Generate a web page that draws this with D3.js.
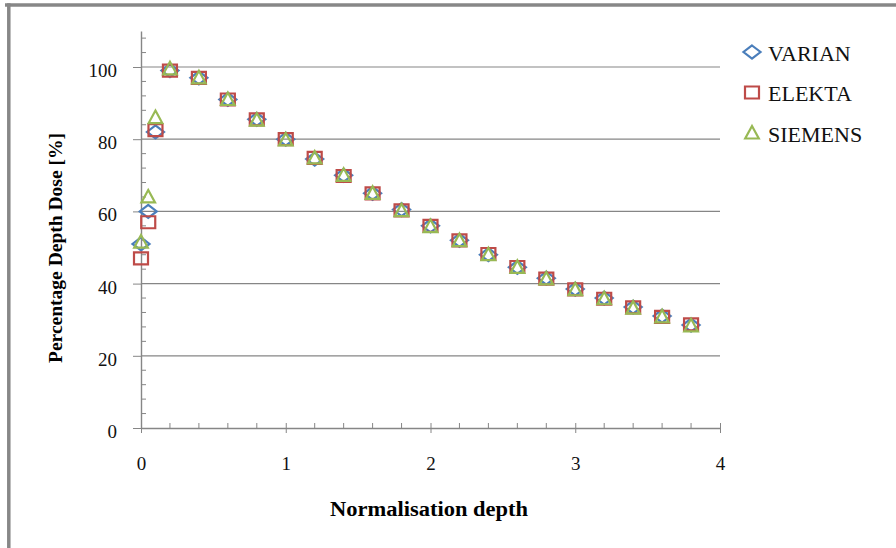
<!DOCTYPE html>
<html><head><meta charset="utf-8">
<script src="https://cdn.jsdelivr.net/npm/d3@7"></script>
<style>body{margin:0;background:#fff}svg{display:block}svg text{font-family:"Liberation Serif","Times New Roman",serif}</style>
</head><body>
<svg id="c" width="896" height="548"></svg>
<script>
const depth   = [0, 0.05, 0.1, 0.2, 0.4, 0.6, 0.8, 1.0, 1.2, 1.4, 1.6, 1.8, 2.0, 2.2, 2.4, 2.6, 2.8, 3.0, 3.2, 3.4, 3.6, 3.8];
const varian  = [51, 60, 82, 99, 97, 91, 85.5, 80, 74.5, 70, 65, 60.5, 56, 52, 48, 44.5, 41.5, 38.5, 36, 33.5, 31, 28.5];
const elekta  = [47, 57, 82.5, 99, 97, 91, 85.5, 80, 74.8, 69.8, 65, 60.3, 56, 52, 48.2, 44.6, 41.4, 38.4, 35.8, 33.4, 30.8, 28.7];
const siemens = [51.5, 64, 86, 99.5, 97, 91, 85.3, 79.8, 74.8, 70, 65, 60.2, 55.8, 51.9, 48, 44.5, 41.3, 38.3, 35.8, 33.2, 30.8, 28.3];
const seriesNames = ["VARIAN", "ELEKTA", "SIEMENS"];
const xTicks = [0, 1, 2, 3, 4];
const yTicks = [0, 20, 40, 60, 80, 100];

const svg = d3.select("#c");
const serif = "'Liberation Serif','Times New Roman',serif";
const axisColor = "#868686";
const colors = {VARIAN: "#4a7ebb", ELEKTA: "#be4b48", SIEMENS: "#98b954"};

// frame
svg.append("line").attr("x1", 5).attr("x2", 896).attr("y1", 5).attr("y2", 5).attr("stroke", "#878787").attr("stroke-width", 3.5);
svg.append("line").attr("x1", 8.8).attr("x2", 8.8).attr("y1", 3.3).attr("y2", 548).attr("stroke", "#878787").attr("stroke-width", 3.5);

const x = d3.scaleLinear().domain([0, 4]).range([141, 720]);
const y = d3.scaleLinear().domain([0, 110]).range([428, 30.9]);

// gridlines
svg.append("g").selectAll("line").data(yTicks.filter(d => d > 0)).join("line")
  .attr("x1", x(0)).attr("x2", x(4)).attr("y1", d => y(d)).attr("y2", d => y(d))
  .attr("stroke", axisColor).attr("stroke-width", 1.2);

// minor ticks
const yMinor = d3.range(4, 110, 4).filter(d => d % 20 !== 0);
svg.append("g").selectAll("line").data(yMinor).join("line")
  .attr("x1", x(0)).attr("x2", x(0) + 5).attr("y1", d => y(d)).attr("y2", d => y(d))
  .attr("stroke", axisColor).attr("stroke-width", 1);
const xMinor = d3.range(1, 20).map(i => i * 0.2).filter(d => Math.abs(d - Math.round(d)) > 1e-6);
svg.append("g").selectAll("line").data(xMinor).join("line")
  .attr("x1", d => x(d)).attr("x2", d => x(d)).attr("y1", y(0)).attr("y2", y(0) - 5)
  .attr("stroke", axisColor).attr("stroke-width", 1);

// axes
const xAxis = d3.axisBottom(x).tickValues(xTicks).tickSize(5).tickSizeOuter(0).tickPadding(24).tickFormat(d3.format("d"));
const gx = svg.append("g").attr("transform", `translate(0,${y(0)})`).call(xAxis).attr("font-family", null);
gx.select(".domain").attr("stroke", axisColor).attr("stroke-width", 1.4);
gx.selectAll(".tick line").attr("stroke", axisColor).attr("y1", -5).attr("y2", 5);
gx.selectAll(".tick text").style("font-family", serif).attr("font-size", 19).attr("fill", "#111").attr("dy", "0.71em");

const yAxis = d3.axisLeft(y).tickValues(yTicks).tickSize(8).tickSizeOuter(0).tickPadding(16);
const gy = svg.append("g").attr("transform", `translate(${x(0)},0)`).call(yAxis).attr("font-family", null);
gy.select(".domain").attr("stroke", axisColor).attr("stroke-width", 1.4);
gy.selectAll(".tick line").attr("stroke", axisColor);
gy.selectAll(".tick text").style("font-family", serif).attr("font-size", 19).attr("fill", "#111").attr("dy", "0.5em");

// axis titles
svg.append("text").attr("x", 429).attr("y", 516).attr("text-anchor", "middle")
  .style("font-family", serif).attr("font-weight", "bold").attr("font-size", 20).attr("fill", "#000")
  .attr("textLength", 198).attr("lengthAdjust", "spacingAndGlyphs")
  .text("Normalisation depth");
svg.append("text").attr("transform", "translate(62,248) rotate(-90)").attr("text-anchor", "middle")
  .style("font-family", serif).attr("font-weight", "bold").attr("font-size", 19).attr("fill", "#000")
  .attr("textLength", 230).attr("lengthAdjust", "spacingAndGlyphs")
  .text("Percentage Depth Dose [%]");

// marker shapes
const shapes = {
  VARIAN: "M0,-6.5L8.5,0L0,6.5L-8.5,0Z",
  ELEKTA: "M-7,-6H7V6H-7Z",
  SIEMENS: "M0,-7L6.8,5.5H-6.8Z"
};
const dataBy = {VARIAN: varian, ELEKTA: elekta, SIEMENS: siemens};

seriesNames.forEach(name => {
  svg.append("g").selectAll("path").data(depth.map((d, i) => [d, dataBy[name][i]])).join("path")
    .attr("d", shapes[name])
    .attr("transform", d => `translate(${x(d[0])},${y(d[1])})`)
    .attr("fill", "none").attr("stroke", colors[name]).attr("stroke-width", 2.2);
});

// legend
const leg = svg.append("g");
seriesNames.forEach((name, i) => {
  const cy = 52 + i * 40.5;
  leg.append("path").attr("d", shapes[name]).attr("transform", `translate(752,${cy})`)
    .attr("fill", "none").attr("stroke", colors[name]).attr("stroke-width", 2.2);
  leg.append("text").attr("x", 768).attr("y", cy + 8.5)
    .style("font-family", serif).attr("font-size", 22).attr("fill", "#111").text(name);
});
</script>
</body></html>
